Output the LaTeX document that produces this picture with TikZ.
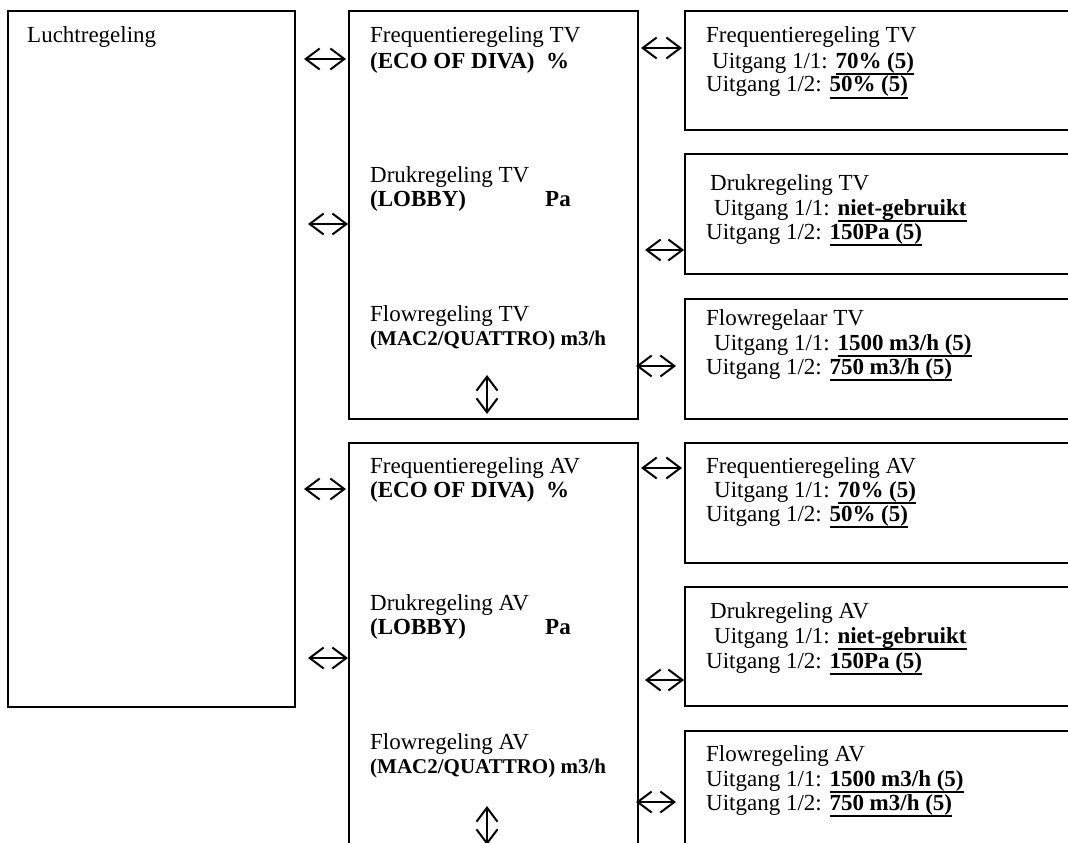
\documentclass[tikz,border=0pt]{standalone}
\usepackage{fontspec}
\setmainfont{Liberation Serif}
\usetikzlibrary{arrows.meta}

\newsavebox{\valbox}
\newcommand{\val}[1]{\sbox{\valbox}{\textbf{#1}}\rlap{\rule[-7pt]{\wd\valbox}{2pt}}\usebox{\valbox}}

\begin{document}
\begin{tikzpicture}[
    x=1pt, y=-1pt,
    box/.style={rectangle, draw, line width=1.6pt, anchor=north west, inner sep=0pt},
    txt/.style={anchor=base west, inner sep=0pt, font=\fontsize{23}{27}\selectfont},
    bold/.style={txt, font=\fontsize{23}{27}\selectfont\bfseries},
    smallbold/.style={txt, font=\fontsize{21}{25}\selectfont\bfseries},
    biarrow/.style={{Straight Barb[length=14pt,width=21pt]}-{Straight Barb[length=14pt,width=21pt]}, line width=2pt}
  ]
    \useasboundingbox (0,0) rectangle (1068,843);
    \clip (0,0) rectangle (1068,843);

    % boxes
    \node[box, minimum width=287pt, minimum height=696pt] (lucht) at (7,10) {};
    \node[box, minimum width=289pt, minimum height=408pt] (tvbox) at (348,10) {};
    \node[box, minimum width=289pt, minimum height=440pt] (avbox) at (348,442) {};
    \node[box, minimum width=420pt, minimum height=119pt] (tvfreq) at (684,10) {};
    \node[box, minimum width=420pt, minimum height=120pt] (tvdruk) at (684,153) {};
    \node[box, minimum width=420pt, minimum height=120pt] (tvflow) at (684,298) {};
    \node[box, minimum width=420pt, minimum height=120pt] (avfreq) at (684,442) {};
    \node[box, minimum width=420pt, minimum height=119pt] (avdruk) at (684,586) {};
    \node[box, minimum width=420pt, minimum height=150pt] (avflow) at (684,730) {};

    % texts
    \node[txt] (luchtname) at (27,43) {Luchtregeling};

    \node[txt]  (tvf1) at (370,43)  {Frequentieregeling TV};
    \node[bold] (tvf2) at (370,69)  {(ECO OF DIVA) \ \%};
    \node[txt]  (tvd1) at (370,182) {Drukregeling TV};
    \node[bold] (tvd2) at (370,206) {(LOBBY)};
    \node[bold] (tvd3) at (545,206) {Pa};
    \node[txt]  (tvq1) at (370,321) {Flowregeling TV};
    \node[smallbold] (tvq2) at (370,345) {(MAC2/QUATTRO) m3/h};

    \node[txt]  (avf1) at (370,473) {Frequentieregeling AV};
    \node[bold] (avf2) at (370,497) {(ECO OF DIVA) \ \%};
    \node[txt]  (avd1) at (370,610) {Drukregeling AV};
    \node[bold] (avd2) at (370,634) {(LOBBY)};
    \node[bold] (avd3) at (545,634) {Pa};
    \node[txt]  (avq1) at (370,749) {Flowregeling AV};
    \node[smallbold] (avq2) at (370,773) {(MAC2/QUATTRO) m3/h};

    \node[txt] (rtf1) at (706,43) {Frequentieregeling TV};
    \node[txt] (rtf2) at (712,68) {Uitgang 1/1: \val{70\% (5)}};
    \node[txt] (rtf3) at (706,92) {Uitgang 1/2: \val{50\% (5)}};
    \node[txt] (rtd1) at (710,190) {Drukregeling TV};
    \node[txt] (rtd2) at (714,215) {Uitgang 1/1: \val{niet-gebruikt}};
    \node[txt] (rtd3) at (706,239) {Uitgang 1/2: \val{150Pa (5)}};
    \node[txt] (rtq1) at (706,325) {Flowregelaar TV};
    \node[txt] (rtq2) at (714,350) {Uitgang 1/1: \val{1500 m3/h (5)}};
    \node[txt] (rtq3) at (706,374) {Uitgang 1/2: \val{750 m3/h (5)}};

    \node[txt] (raf1) at (706,473) {Frequentieregeling AV};
    \node[txt] (raf2) at (714,497) {Uitgang 1/1: \val{70\% (5)}};
    \node[txt] (raf3) at (706,521) {Uitgang 1/2: \val{50\% (5)}};
    \node[txt] (rad1) at (710,618) {Drukregeling AV};
    \node[txt] (rad2) at (714,643) {Uitgang 1/1: \val{niet-gebruikt}};
    \node[txt] (rad3) at (706,668) {Uitgang 1/2: \val{150Pa (5)}};
    \node[txt] (raq1) at (706,761) {Flowregeling AV};
    \node[txt] (raq2) at (706,786) {Uitgang 1/1: \val{1500 m3/h (5)}};
    \node[txt] (raq3) at (706,810) {Uitgang 1/2: \val{750 m3/h (5)}};

    % arrow ends
    \coordinate (tvfL1) at (304,59);  \coordinate (tvfL2) at (346,59);
    \coordinate (tvdL1) at (308,224); \coordinate (tvdL2) at (348,224);
    \coordinate (avfL1) at (304,489); \coordinate (avfL2) at (346,489);
    \coordinate (avdL1) at (308,658); \coordinate (avdL2) at (348,658);
    \coordinate (tvfR1) at (641,48);  \coordinate (tvfR2) at (682,48);
    \coordinate (tvdR1) at (645,250); \coordinate (tvdR2) at (684,250);
    \coordinate (tvqR1) at (636,366); \coordinate (tvqR2) at (676,366);
    \coordinate (avfR1) at (641,468); \coordinate (avfR2) at (682,468);
    \coordinate (avdR1) at (645,680); \coordinate (avdR2) at (684,680);
    \coordinate (avqR1) at (636,802); \coordinate (avqR2) at (676,802);
    \coordinate (tvV1) at (487,375);  \coordinate (tvV2) at (487,414);
    \coordinate (avV1) at (487,806);  \coordinate (avV2) at (487,845);

    \draw[biarrow] (tvfL1) -- (tvfL2);
    \draw[biarrow] (tvdL1) -- (tvdL2);
    \draw[biarrow] (avfL1) -- (avfL2);
    \draw[biarrow] (avdL1) -- (avdL2);
    \draw[biarrow] (tvfR1) -- (tvfR2);
    \draw[biarrow] (tvdR1) -- (tvdR2);
    \draw[biarrow] (tvqR1) -- (tvqR2);
    \draw[biarrow] (avfR1) -- (avfR2);
    \draw[biarrow] (avdR1) -- (avdR2);
    \draw[biarrow] (avqR1) -- (avqR2);
    \draw[biarrow] (tvV1) -- (tvV2);
    \draw[biarrow] (avV1) -- (avV2);
\end{tikzpicture}
\end{document}
